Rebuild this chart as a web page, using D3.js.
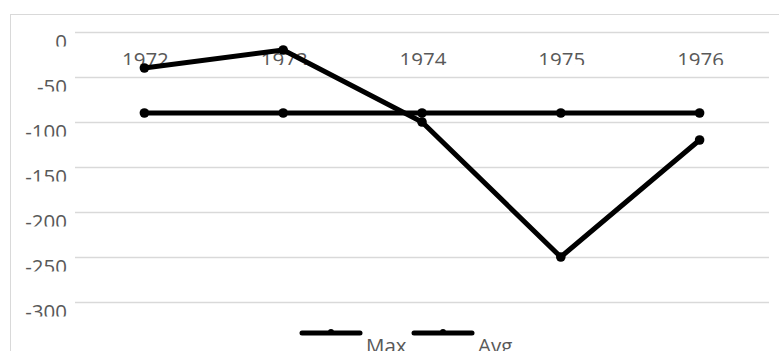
<!DOCTYPE html>
<html>
<head>
<meta charset="utf-8">
<script src="https://cdn.jsdelivr.net/npm/d3@7"></script>
<style>
  html, body { margin: 0; padding: 0; background: #fff; }
  svg { display: block; }
  text { font-family: "Open Sans", "Noto Sans", sans-serif; fill: #595959; }
</style>
</head>
<body>
<svg id="chart" width="779" height="351"></svg>
<script>
// Chart data
const years = ["1972", "1973", "1974", "1975", "1976"];
const maxValues = [-40, -20, -100, -250, -120];
const avgValues = [-90, -90, -90, -90, -90];
const yTicks = [0, -50, -100, -150, -200, -250, -300];
const seriesNames = ["Max", "Avg"];

const series = [
  { name: seriesNames[0], values: maxValues },
  { name: seriesNames[1], values: avgValues }
];

const W = 779, H = 351;
const plot = { left: 75, right: 769, top: 32, bottom: 302 };
const fontSize = 20.5;

const svg = d3.select("#chart");
const defs = svg.append("defs");

// Outer frame of the chart area
svg.append("rect")
  .attr("x", 10.5).attr("y", 14.5)
  .attr("width", W + 20).attr("height", H + 20)
  .attr("fill", "none").attr("stroke", "#d9d9d9").attr("stroke-width", 1);

const x = d3.scalePoint().domain(years).range([plot.left, plot.right]).padding(0.5);
const y = d3.scaleLinear().domain([-300, 0]).range([plot.bottom, plot.top]);

// Horizontal gridlines
svg.append("g").selectAll("line").data(yTicks).join("line")
  .attr("x1", plot.left).attr("x2", plot.right)
  .attr("y1", d => Math.round(y(d)) + 0.5).attr("y2", d => Math.round(y(d)) + 0.5)
  .attr("stroke", "#d9d9d9").attr("stroke-width", 1.3);

// Y tick labels (bottom of each label is cut off)
const yLab = svg.append("g");
yTicks.forEach((t, i) => {
  const gy = Math.round(y(t));
  const id = "yclip" + i;
  defs.append("clipPath").attr("id", id).append("rect")
    .attr("x", 0).attr("y", gy).attr("width", plot.left).attr("height", 14.5);
  yLab.append("text")
    .attr("clip-path", `url(#${id})`)
    .attr("x", 67).attr("y", gy + 17)
    .attr("text-anchor", "end")
    .attr("font-size", fontSize)
    .text(d3.format("d")(t).replace("−", "-"));
});

// Category labels across the top of the plot
const xLabTop = 52;
defs.append("clipPath").attr("id", "xclip").append("rect")
  .attr("x", 0).attr("y", xLabTop - 6).attr("width", W).attr("height", 65 - (xLabTop - 6));
svg.append("g").attr("clip-path", "url(#xclip)")
  .selectAll("text").data(years).join("text")
  .attr("x", d => x(d) + 1).attr("y", xLabTop + 15)
  .attr("text-anchor", "middle")
  .attr("font-size", fontSize)
  .text(d => d);

// Lines and markers
const line = d3.line().x((d, i) => x(years[i])).y(d => y(d));
const lines = svg.append("g");
series.forEach(s => {
  lines.append("path")
    .attr("d", line(s.values))
    .attr("fill", "none").attr("stroke", "#000")
    .attr("stroke-width", 5).attr("stroke-linejoin", "round");
  lines.append("g").selectAll("circle").data(s.values).join("circle")
    .attr("cx", (d, i) => x(years[i])).attr("cy", d => y(d))
    .attr("r", 4.8).attr("fill", "#000");
});

// Legend
const legend = svg.append("g");
const legendX = [302, 414];
series.forEach((s, i) => {
  const lx = legendX[i];
  legend.append("line")
    .attr("x1", lx).attr("x2", lx + 58)
    .attr("y1", 333).attr("y2", 333)
    .attr("stroke", "#000").attr("stroke-width", 5).attr("stroke-linecap", "round");
  legend.append("circle").attr("cx", lx + 29).attr("cy", 332).attr("r", 3).attr("fill", "#000");
  legend.append("text")
    .attr("x", lx + 64).attr("y", 353)
    .attr("font-size", fontSize)
    .text(s.name);
});
</script>
</body>
</html>
